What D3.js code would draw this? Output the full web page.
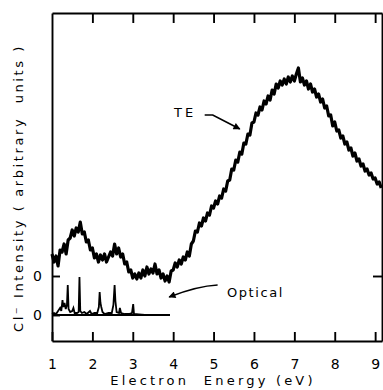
<!DOCTYPE html>
<html>
<head>
<meta charset="utf-8">
<script src="https://cdn.jsdelivr.net/npm/d3@7"></script>
<style>
  html, body { margin: 0; padding: 0; background: #fff; }
  svg { display: block; font-family: "DejaVu Sans", sans-serif; }
  .axis path, .axis line { stroke: #000; stroke-width: 1.9; }
  .axis text { font-size: 14px; fill: #000; font-family: "DejaVu Sans", sans-serif; }
</style>
</head>
<body>
<div id="chart"></div>
<script>
// TE spectrum (Cl- yield vs electron energy)
const teEnergy = d3.range(164).map(i => +(1 + i * 0.05).toFixed(2));
const teIntensity = [
  11, 7, 10, 5, 13, 12, 16, 11, 18, 19,
  23, 20, 24, 22, 27, 21, 22, 17, 18, 13,
  14, 9, 11, 7, 10.5, 8, 11, 7, 9.5, 12,
  10, 16, 11, 14, 9.5, 11, 6, 7, 2, 3,
  -1, 1, -1.5, 1.5, -1, 3, 0, 4.5, 1, 3.5,
  1.5, 6, 1, 3, -1, 1, -2.5, 0, -3, 2.5,
  3, 6.5, 4.5, 8, 6, 9.5, 8, 12, 10, 16,
  17.5, 22.5, 22, 26.5, 25, 29, 27.5, 31.5, 30.5, 35,
  34, 37.5, 36, 40, 39, 43.5, 42.5, 47.5, 48, 53.5,
  53, 58, 57, 62, 61, 66.5, 66, 71, 70.5, 76.5,
  77, 81.5, 80.5, 84.5, 83, 87.5, 86, 90, 88, 93,
  91, 96, 94, 97.5, 95.5, 98.5, 96, 99.5, 97, 100,
  97.5, 101, 104, 97, 99, 95.5, 97.5, 93.5, 96, 92,
  93.5, 89.5, 91, 87, 88.5, 84, 85, 80, 80.5, 75,
  77, 72.5, 73, 69, 70, 66, 67, 63, 64, 60,
  61.5, 57.5, 58.5, 55, 56, 52.5, 53.5, 50.5, 51.5, 48.5,
  49, 46, 47, 44
];

// optical spectrum (line spectrum, own baseline)
const optEnergy = [1.00, 1.05, 1.10, 1.15, 1.20, 1.23, 1.26, 1.28, 1.31, 1.34, 1.37, 1.39, 1.41,
  1.45, 1.50, 1.53, 1.56, 1.62, 1.66, 1.68, 1.70, 1.74, 1.80, 1.86, 1.94, 1.98, 2.05,
  2.12, 2.16, 2.18, 2.20, 2.22, 2.25, 2.30, 2.40, 2.48, 2.52, 2.55, 2.57, 2.60, 2.66,
  2.68, 2.71, 2.80, 2.90, 2.98, 3.01, 3.03, 3.15, 3.30, 3.50, 3.70, 3.92];
const optIntensity = [0.5, 1, 0.5, 2, 3.5, 2, 7.5, 4, 6, 3, 5, 15, 3,
  1.5, 2, 3.5, 1, 1, 1.5, 19, 2, 1, 1.5, 0.5, 2, 0.5, 1,
  1, 4, 11.5, 6, 4, 1.5, 0.5, 1, 1, 5, 15, 7, 1.5, 1,
  3.5, 1, 0.5, 0.5, 1, 5.5, 0.5, 0.3, 0, 0, 0, 0];

const TE_ZERO = 0, OPT_ZERO = -19.5;
const xTicks = [1, 2, 3, 4, 5, 6, 7, 8, 9];
const xDomain = [1, 9.17], yDomain = [-32.5, 131.5];

const W = 383, H = 390, m = { t: 13, r: 1, b: 49, l: 52 };
const svg = d3.select('#chart').append('svg').attr('width', W).attr('height', H);
const x = d3.scaleLinear().domain(xDomain).range([m.l, W - m.r]);
const y = d3.scaleLinear().domain(yDomain).range([H - m.b, m.t]);

// frame + ticks (all pointing inward)
svg.append('g').attr('class', 'axis').attr('transform', `translate(0,${H - m.b})`)
  .call(d3.axisBottom(x).tickValues(xTicks).tickSize(-9).tickSizeOuter(0).tickPadding(18).tickFormat(d3.format('d')));
svg.append('g').attr('class', 'axis').attr('transform', `translate(0,${m.t})`)
  .call(d3.axisTop(x).tickValues(xTicks.slice(1)).tickSize(-10).tickSizeOuter(0).tickFormat(''));
svg.append('g').attr('class', 'axis').attr('transform', `translate(${m.l},0)`)
  .call(d3.axisLeft(y).tickValues([OPT_ZERO, TE_ZERO]).tickSize(-8).tickSizeOuter(0).tickPadding(10).tickFormat(() => '0'));
svg.append('g').attr('class', 'axis').attr('transform', `translate(${W - m.r},0)`)
  .call(d3.axisRight(y).tickValues([TE_ZERO]).tickSize(-9).tickSizeOuter(0).tickFormat(''));

// curves
const line = d3.line().x(d => x(d[0])).y(d => y(d[1]));
svg.append('path').datum(teEnergy.map((e, i) => [e, TE_ZERO + teIntensity[i]]))
  .attr('d', line).attr('fill', 'none').attr('stroke', '#000').attr('stroke-width', 3.2)
  .attr('stroke-linejoin', 'round');
svg.append('path').datum(optEnergy.map((e, i) => [e, OPT_ZERO + optIntensity[i]]))
  .attr('d', line).attr('fill', 'none').attr('stroke', '#000').attr('stroke-width', 1.8)
  .attr('stroke-linejoin', 'miter');
svg.append('line').attr('x1', x(optEnergy[0])).attr('x2', x(optEnergy[optEnergy.length - 1]))
  .attr('y1', y(OPT_ZERO)).attr('y2', y(OPT_ZERO)).attr('stroke', '#000').attr('stroke-width', 2);

// arrowhead
svg.append('defs').append('marker').attr('id', 'ah').attr('viewBox', '0 0 10 10')
  .attr('refX', 9).attr('refY', 5).attr('markerWidth', 9).attr('markerHeight', 7)
  .attr('markerUnits', 'userSpaceOnUse').attr('orient', 'auto')
  .append('path').attr('d', 'M0,0L10,5L0,10Z').attr('fill', '#000');

// annotations
svg.append('text').attr('x', x(4.02)).attr('y', y(79.5)).attr('font-size', 13).attr('letter-spacing', 3)
  .text('TE');
svg.append('path')
  .attr('d', `M${x(4.78)},${y(80.5)}L${x(4.98)},${y(80.5)}L${x(5.65)},${y(73.5)}`)
  .attr('fill', 'none').attr('stroke', '#000').attr('stroke-width', 1.7).attr('marker-end', 'url(#ah)');
svg.append('text').attr('x', x(5.33)).attr('y', y(-10.5)).attr('font-size', 13).attr('letter-spacing', 1.6)
  .text('Optical');
svg.append('path')
  .attr('d', `M${x(5.1)},${y(-4.5)}Q${x(4.6)},${y(-5)} ${x(3.9)},${y(-10.5)}`)
  .attr('fill', 'none').attr('stroke', '#000').attr('stroke-width', 1.7).attr('marker-end', 'url(#ah)');

// axis titles
svg.append('text').attr('x', 213).attr('y', 385).attr('text-anchor', 'middle')
  .attr('font-size', 13).attr('letter-spacing', 3.2).attr('xml:space', 'preserve')
  .text('Electron  Energy (eV)');
svg.append('text').attr('transform', 'translate(23,188) rotate(-90)').attr('text-anchor', 'middle')
  .attr('font-size', 13).attr('letter-spacing', 2.6).attr('xml:space', 'preserve')
  .text('Cl⁻ Intensity ( arbitrary  units )');
</script>
</body>
</html>
